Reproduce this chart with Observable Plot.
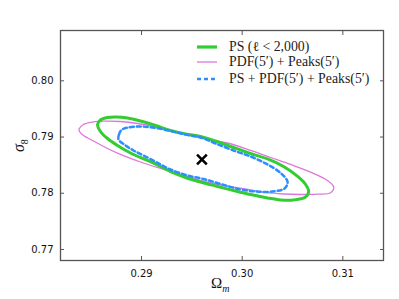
<!DOCTYPE html>
<html>
<head>
<meta charset="utf-8">
<script src="https://cdn.jsdelivr.net/npm/d3@7"></script>
<script src="https://cdn.jsdelivr.net/npm/@observablehq/plot@0.6"></script>
<style>
  html, body { margin: 0; padding: 0; background: #fff; }
  #wrap { position: relative; width: 399px; height: 299px; overflow: hidden; }
  .leg { position: absolute; font-family: "Liberation Serif", serif; font-size: 13.8px; font-weight: 400; color: #222; white-space: nowrap; line-height: 1; }
  .lab { position: absolute; font-family: "Liberation Serif", serif; color: #111; white-space: nowrap; line-height: 1; }
</style>
</head>
<body>
<div id="wrap"></div>
<script>
// ---- Data ----
const xTicks = [0.29, 0.30, 0.31];
const yTicks = [0.77, 0.78, 0.79, 0.80];

const seriesNames = ["PS (ℓ < 2,000)", "PDF(5′) + Peaks(5′)", "PS + PDF(5′) + Peaks(5′)"];
const seriesColors = ["#33cc33", "#dd77dd", "#2b8fff"];

// PS (ell < 2000) 1-sigma contour
const psOm = [0.28563,0.28592,0.28662,0.28742,0.28861,0.28990,0.29139,0.29288,0.29437,0.29586,0.29736,0.29914,0.30083,0.30252,0.30411,0.30551,0.30630,0.30660,0.30630,0.30511,0.30382,0.30252,0.30083,0.29914,0.29736,0.29586,0.29437,0.29318,0.29219,0.29060,0.28891,0.28761,0.28662,0.28592];
const psS8 = [0.79223,0.79303,0.79347,0.79356,0.79339,0.79285,0.79205,0.79116,0.79054,0.79010,0.78930,0.78814,0.78707,0.78610,0.78476,0.78299,0.78156,0.78032,0.77934,0.77881,0.77881,0.77916,0.77978,0.78050,0.78130,0.78201,0.78281,0.78361,0.78450,0.78583,0.78716,0.78850,0.78974,0.79099];

// PDF(5') + Peaks(5') contour
const pdfOm = [0.28379,0.28423,0.28513,0.28622,0.28791,0.28960,0.29139,0.29288,0.29487,0.29686,0.29855,0.30083,0.30282,0.30481,0.30680,0.30846,0.30909,0.30879,0.30749,0.30580,0.30411,0.30233,0.30014,0.29785,0.29586,0.29388,0.29189,0.28990,0.28791,0.28642,0.28513,0.28423,0.28384];
const pdfS8 = [0.79143,0.79223,0.79267,0.79282,0.79276,0.79241,0.79179,0.79107,0.79027,0.78947,0.78894,0.78761,0.78636,0.78512,0.78375,0.78227,0.78112,0.78009,0.77984,0.77978,0.77987,0.78014,0.78080,0.78147,0.78227,0.78334,0.78441,0.78556,0.78690,0.78814,0.78939,0.79027,0.79099];

// PS + PDF(5') + Peaks(5') contour
const allOm = [0.28771,0.28776,0.28801,0.28851,0.28990,0.29139,0.29288,0.29437,0.29586,0.29736,0.29914,0.30083,0.30233,0.30382,0.30451,0.30421,0.30282,0.30133,0.29984,0.29785,0.29616,0.29457,0.29288,0.29189,0.29060,0.28920,0.28821];
const allS8 = [0.78956,0.79045,0.79125,0.79164,0.79187,0.79161,0.79107,0.79045,0.78992,0.78885,0.78761,0.78654,0.78530,0.78361,0.78201,0.78085,0.78028,0.78032,0.78067,0.78165,0.78254,0.78316,0.78423,0.78512,0.78636,0.78761,0.78876];

// fiducial model
const fidOm = [0.296];
const fidS8 = [0.786];

// ---- Build tables ----
const toRows = (om, s8) => om.map((v, i) => ({om: v, s8: s8[i]}));
const ps = toRows(psOm, psS8);
const pdf = toRows(pdfOm, pdfS8);
const all = toRows(allOm, allS8);
const fid = toRows(fidOm, fidS8);

const W = 399, H = 299;
const mL = 60, mR = 16, mT = 30, mB = 39;
const fmt = d3.format(".2f");

const chart = Plot.plot({
  width: W, height: H,
  marginLeft: mL, marginRight: mR, marginTop: mT, marginBottom: mB,
  style: {fontFamily: "DejaVu Sans, sans-serif", fontSize: "10px", color: "#111", background: "#fff"},
  x: {domain: [0.28195, 0.31404], label: null},
  y: {domain: [0.76804, 0.80895], label: null},
  marks: [
    Plot.line(pdf, {x: "om", y: "s8", curve: "catmull-rom-closed", stroke: seriesColors[1], strokeWidth: 1.3}),
    Plot.line(ps, {x: "om", y: "s8", curve: "catmull-rom-closed", stroke: seriesColors[0], strokeWidth: 3}),
    Plot.line(all, {x: "om", y: "s8", curve: "catmull-rom-closed", stroke: seriesColors[2], strokeWidth: 2.5, strokeDasharray: "4,3"}),
    Plot.dot(fid, {x: "om", y: "s8", symbol: "times", r: 4.5, stroke: "#000", strokeWidth: 2.6}),
    Plot.axisX(xTicks, {anchor: "bottom", tickSize: -4, tickPadding: 13, tickFormat: fmt, stroke: "#555", fontSize: 10, fill: "#111", label: null}),
    Plot.axisX(xTicks, {anchor: "top", tickSize: -4, tickFormat: () => "", stroke: "#555", label: null}),
    Plot.axisY(yTicks, {anchor: "left", tickSize: -4, tickPadding: 11, tickFormat: fmt, stroke: "#555", fontSize: 10, fill: "#111", label: null}),
    Plot.axisY(yTicks, {anchor: "right", tickSize: -4, tickFormat: () => "", stroke: "#555", label: null}),
    Plot.frame({stroke: "#555", strokeWidth: 1.3})
  ]
});

const wrap = document.getElementById("wrap");
chart.style.position = "absolute";
chart.style.left = "0px";
chart.style.top = "0px";
wrap.appendChild(chart);

// ---- Legend ----
const legY = [46.7, 62, 78.5];
const dashes = [null, null, "4,3"];
const widths = [3.2, 1.3, 2.5];
seriesNames.forEach((name, i) => {
  const sw = document.createElementNS("http://www.w3.org/2000/svg", "svg");
  sw.setAttribute("width", 24); sw.setAttribute("height", 8);
  sw.style.position = "absolute";
  sw.style.left = "195px";
  sw.style.top = (legY[i] - 4) + "px";
  const ln = document.createElementNS("http://www.w3.org/2000/svg", "line");
  ln.setAttribute("x1", 2); ln.setAttribute("x2", 22);
  ln.setAttribute("y1", 4); ln.setAttribute("y2", 4);
  ln.setAttribute("stroke", seriesColors[i]);
  ln.setAttribute("stroke-width", widths[i]);
  if (dashes[i]) ln.setAttribute("stroke-dasharray", dashes[i]);
  sw.appendChild(ln);
  wrap.appendChild(sw);
  const t = document.createElement("div");
  t.className = "leg";
  t.textContent = name;
  t.style.left = "229px";
  t.style.top = (legY[i] - 7) + "px";
  wrap.appendChild(t);
});

// ---- Axis labels ----
const xl = document.createElement("div");
xl.className = "lab";
xl.style.fontSize = "15px";
xl.innerHTML = "Ω<sub style='font-size:10px;font-style:italic'>m</sub>";
xl.style.left = "211px";
xl.style.top = "276px";
wrap.appendChild(xl);

const yl = document.createElement("div");
yl.className = "lab";
yl.style.fontSize = "16px";
yl.innerHTML = "<i>σ</i><sub style='font-size:10px'>8</sub>";
yl.style.left = "14px";
yl.style.top = "136px";
yl.style.transform = "rotate(-90deg)";
wrap.appendChild(yl);
</script>
</body>
</html>
